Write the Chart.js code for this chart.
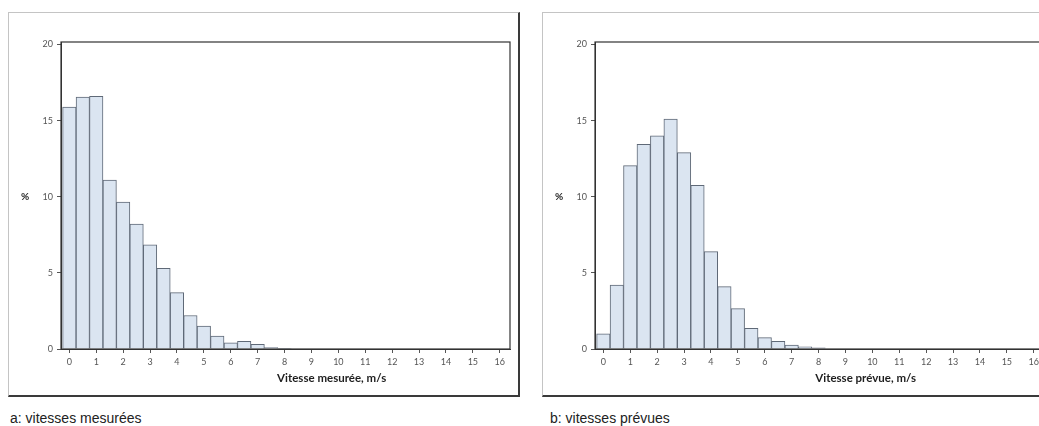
<!DOCTYPE html>
<html>
<head>
<meta charset="utf-8">
<script src="https://cdn.jsdelivr.net/npm/chart.js@4.4.1/dist/chart.umd.min.js"></script>
<style>
  html, body { margin: 0; padding: 0; background: #fff; }
  body { width: 1039px; height: 426px; overflow: hidden; position: relative; font-family: "Liberation Sans", Arial, sans-serif; }
  .panel { position: absolute; top: 12px; width: 509px; height: 382px;
           border-left: 1px solid #c4c4c4; border-top: 1px solid #c4c4c4;
           border-right: 2px solid #3a3a3a; border-bottom: 2px solid #3a3a3a; }
  .panel canvas { position: absolute; left: 0; top: 0; }
  .caption { position: absolute; top: 410px; font-size: 14px; color: #222; }
</style>
</head>
<body>
<div class="panel" style="left:8px"><canvas id="chartA" width="509" height="382"></canvas></div>
<div class="panel" style="left:542px"><canvas id="chartB" width="509" height="382"></canvas></div>
<div class="caption" style="left:10px">a: vitesses mesurées</div>
<div class="caption" style="left:550px">b: vitesses prévues</div>
<script>
// speed bins (m/s), 0.5 wide, centred on these values
const binCenters = [0, 0.5, 1, 1.5, 2, 2.5, 3, 3.5, 4, 4.5, 5, 5.5, 6, 6.5, 7, 7.5, 8];
// % of observations per bin
const measured = [15.9, 16.55, 16.6, 11.1, 9.65, 8.2, 6.85, 5.3, 3.7, 2.2, 1.5, 0.85, 0.4, 0.5, 0.3, 0.1, 0.05];
const forecast = [1.0, 4.2, 12.05, 13.45, 14.0, 15.1, 12.9, 10.75, 6.4, 4.1, 2.65, 1.35, 0.75, 0.5, 0.25, 0.15, 0.08];
const xTicks = [0, 1, 2, 3, 4, 5, 6, 7, 8, 9, 10, 11, 12, 13, 14, 15, 16];
const yTicks = [0, 5, 10, 15, 20];

const tickFont = { family: 'Lato, "Open Sans", sans-serif', size: 9 };

// plot frame + axis titles drawn straight on the canvas
const framePlugin = {
    id: 'frame',
    afterDraw(chart, args, opts) {
        const ctx = chart.ctx;
        const a = chart.chartArea;
        ctx.save();
        ctx.strokeStyle = '#333';
        ctx.lineWidth = 1.2;
        ctx.strokeRect(a.left, a.top, a.right - a.left, a.bottom - a.top);
        ctx.fillStyle = '#1e1e1e';
        ctx.font = 'bold 11.5px Lato, "Open Sans", sans-serif';
        ctx.textAlign = 'center';
        ctx.textBaseline = 'middle';
        ctx.fillText(opts.xTitle, chart.scales.x.getPixelForValue(9.75), a.bottom + 29);
        ctx.font = 'bold 10px Lato, "Open Sans", sans-serif';
        ctx.fillText('%', a.left - 36, chart.scales.y.getPixelForValue(10));
        ctx.restore();
    }
};

function drawHistogram(canvasId, values, xTitle) {
    const ctx = document.getElementById(canvasId).getContext('2d');
    return new Chart(ctx, {
        type: 'bar',
        data: {
            datasets: [{
                data: binCenters.map((c, i) => ({ x: c, y: values[i] })),
                backgroundColor: 'rgb(219, 229, 241)',
                borderColor: '#5f6977',
                borderWidth: 1,
                barPercentage: 1,
                categoryPercentage: 1
            }]
        },
        options: {
            responsive: false,
            animation: false,
            devicePixelRatio: 1,
            layout: { padding: { left: 0, top: 29, right: 8, bottom: 0 } },
            plugins: {
                legend: { display: false },
                tooltip: { enabled: false },
                frame: { xTitle: xTitle }
            },
            scales: {
                x: {
                    type: 'linear',
                    offset: false,
                    min: -0.31,
                    max: 16.38,
                    afterBuildTicks: axis => { axis.ticks = xTicks.map(v => ({ value: v })); },
                    afterFit: axis => { axis.height = 46; },
                    grid: { offset: false, drawOnChartArea: false, drawTicks: true, tickLength: 4, color: '#555' },
                    border: { display: true, color: '#333' },
                    ticks: { font: tickFont, color: '#555', padding: 4, maxRotation: 0, autoSkip: false }
                },
                y: {
                    min: 0,
                    max: 20.17,
                    afterBuildTicks: axis => { axis.ticks = yTicks.map(v => ({ value: v })); },
                    afterFit: axis => { axis.width = 52; },
                    grid: { drawOnChartArea: false, drawTicks: true, tickLength: 4, color: '#555' },
                    border: { display: true, color: '#333' },
                    ticks: { font: tickFont, color: '#555', padding: 4 }
                }
            }
        },
        plugins: [framePlugin]
    });
}

drawHistogram('chartA', measured, 'Vitesse mesurée, m/s');
drawHistogram('chartB', forecast, 'Vitesse prévue, m/s');
</script>
</body>
</html>
